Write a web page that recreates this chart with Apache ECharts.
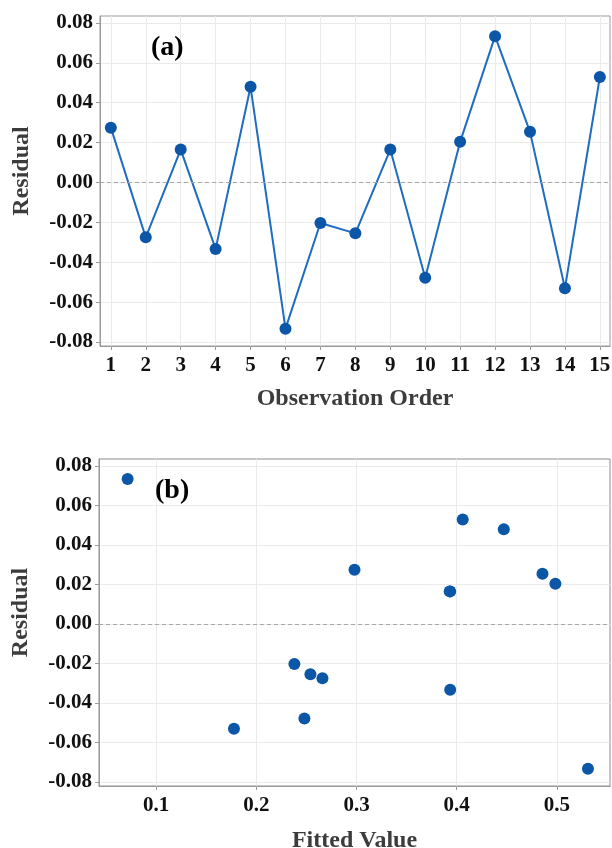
<!DOCTYPE html>
<html><head><meta charset="utf-8">
<script src="https://cdn.jsdelivr.net/npm/echarts@6/dist/echarts.min.js"></script>
<style>html,body{margin:0;padding:0;background:#fff}#c{width:612px;height:848px}</style>
</head><body><div id="c"></div>
<script>
const observationOrder = [1, 2, 3, 4, 5, 6, 7, 8, 9, 10, 11, 12, 13, 14, 15];
const residuals = [0.0275, -0.0275, 0.0165, -0.0333, 0.048, -0.0733, -0.0203, -0.0255, 0.0165, -0.0478, 0.0204, 0.0734, 0.0254, -0.053, 0.0529];
const fittedValues = [0.298, 0.266, 0.3935, 0.3935, 0.447, 0.531, 0.238, 0.254, 0.393, 0.248, 0.4985, 0.0716, 0.4856, 0.1777, 0.406];
const residualTicks = [-0.08, -0.06, -0.04, -0.02, 0, 0.02, 0.04, 0.06, 0.08];
const fittedTicks = [0.1, 0.2, 0.3, 0.4, 0.5];
const panelLabels = ['(a)', '(b)'];
const axisTitles = { order: 'Observation Order', fitted: 'Fitted Value', residual: 'Residual' };

const FONT = "'Liberation Serif', 'Times New Roman', serif";
const BORDER = '#9a9a9a';
const GRIDC = '#ebebeb';
const nameStyle = { fontFamily: FONT, fontWeight: 'bold', fontSize: 24, color: '#3c3c3c' };
const labelStyle = { fontFamily: FONT, fontWeight: 'bold', fontSize: 21, color: '#111' };

function xAxisBase(gridIndex, min, max, ticks, name, fmt, gap) {
  return {
    type: 'value', gridIndex, min, max,
    name, nameLocation: 'middle', nameGap: gap, nameTextStyle: nameStyle,
    axisLine: { show: true, onZero: false, lineStyle: { color: BORDER, width: 1 } },
    axisTick: { show: true, customValues: ticks, length: 4, lineStyle: { color: BORDER } },
    axisLabel: Object.assign({ customValues: ticks, margin: 9, formatter: fmt }, labelStyle),
    splitLine: { show: true, lineStyle: { color: GRIDC, width: 1 } }
  };
}
function yAxisBase(gridIndex) {
  return {
    type: 'value', gridIndex, min: -0.082, max: 0.0835,
    name: axisTitles.residual, nameLocation: 'middle', nameGap: 66,
    nameTextStyle: Object.assign({ padding: [0, 0, 0, 20] }, nameStyle),
    axisLine: { show: true, onZero: false, lineStyle: { color: BORDER, width: 1 } },
    axisTick: { show: true, customValues: residualTicks, length: 4, lineStyle: { color: BORDER } },
    axisLabel: Object.assign({ customValues: residualTicks, margin: 7, formatter: v => v.toFixed(2) }, labelStyle),
    splitLine: { show: true, lineStyle: { color: GRIDC, width: 1 } }
  };
}
const zeroLine = {
  silent: true, symbol: 'none', label: { show: false },
  lineStyle: { color: '#a8a8a8', type: [4, 3], width: 1 },
  data: [{ yAxis: 0 }]
};

const chart = echarts.init(document.getElementById('c'), null, { renderer: 'canvas' });
chart.setOption({
  animation: false,
  backgroundColor: '#fff',
  title: [
    { text: panelLabels[0], left: 146, top: 29, textStyle: { fontFamily: FONT, fontWeight: 'bold', fontSize: 28, color: '#000' } },
    { text: panelLabels[1], left: 150, top: 472, textStyle: { fontFamily: FONT, fontWeight: 'bold', fontSize: 28, color: '#000' } }
  ],
  grid: [
    { left: 100, right: 2, top: 16, height: 330, show: true, borderColor: BORDER, borderWidth: 1, outerBoundsMode: 'none', containLabel: false },
    { left: 99, right: 2, top: 459, height: 327, show: true, borderColor: '#8c8c8c', borderWidth: 1, outerBoundsMode: 'none', containLabel: false }
  ],
  xAxis: [
    xAxisBase(0, 0.69, 15.29, observationOrder, axisTitles.order, v => String(v), 41),
    xAxisBase(1, 0.043, 0.553, fittedTicks, axisTitles.fitted, v => v.toFixed(1), 43)
  ],
  yAxis: [yAxisBase(0), yAxisBase(1)],
  series: [
    {
      type: 'line', xAxisIndex: 0, yAxisIndex: 0,
      data: observationOrder.map((o, i) => [o, residuals[i]]),
      lineStyle: { color: '#1f6cc0', width: 2 },
      symbol: 'circle', symbolSize: 12,
      itemStyle: { color: '#0b56a6' },
      markLine: zeroLine, z: 3
    },
    {
      type: 'scatter', xAxisIndex: 1, yAxisIndex: 1,
      data: fittedValues.map((f, i) => [f, residuals[i]]),
      symbol: 'circle', symbolSize: 12,
      itemStyle: { color: '#0b56a6', opacity: 1 },
      markLine: zeroLine, z: 3
    }
  ]
});
</script></body></html>
